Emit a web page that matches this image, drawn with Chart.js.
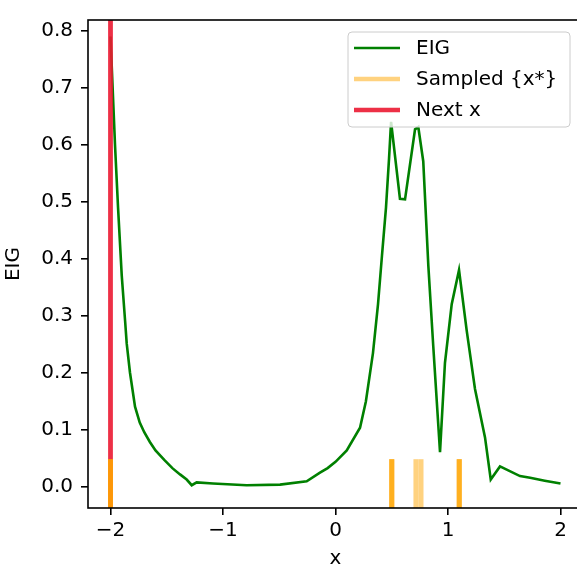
<!DOCTYPE html>
<html>
<head>
<meta charset="utf-8">
<script src="https://cdn.jsdelivr.net/npm/chart.js@4"></script>
<style>
  html, body { margin: 0; padding: 0; background: #fff; overflow: hidden; }
  canvas { display: block; }
</style>
</head>
<body>
<canvas id="eigChart" width="584" height="573"></canvas>
<script>
// --- data ---
const xValues = [-2.0, -1.96, -1.933, -1.9, -1.87, -1.856, -1.827, -1.782, -1.74, -1.7, -1.65, -1.6,
    -1.52, -1.45, -1.382, -1.323, -1.278, -1.234, -1.089, -0.79, -0.493, -0.256, -0.138, -0.07, 0.0,
    0.1, 0.218, 0.27, 0.333, 0.378, 0.413, 0.449, 0.476, 0.494, 0.573, 0.618, 0.707, 0.736, 0.78,
    0.825, 0.869, 0.929, 0.973, 1.033, 1.098, 1.166, 1.24, 1.329, 1.38, 1.462, 1.64, 1.73, 1.86, 2.0];
const eigValues = [0.79, 0.6, 0.49, 0.37, 0.29, 0.251, 0.2, 0.14, 0.112, 0.095, 0.078, 0.063,
    0.046, 0.032, 0.021, 0.012, 0.002, 0.007, 0.005, 0.002, 0.003, 0.009, 0.024, 0.032, 0.043,
    0.063, 0.103, 0.149, 0.234, 0.32, 0.405, 0.49, 0.576, 0.64, 0.505, 0.504, 0.627, 0.631, 0.571,
    0.388, 0.246, 0.06, 0.217, 0.32, 0.38, 0.274, 0.171, 0.086, 0.012, 0.035, 0.018, 0.015, 0.01, 0.005];
const sampledX = [-2, -2, -2, 0.5, 0.5, 0.5, 0.715, 0.76, 1.1, 1.1, 1.1];
const nextX = [-2];
const xTicks = [-2, -1, 0, 1, 2];
const yTicks = [0, 0.1, 0.2, 0.3, 0.4, 0.5, 0.6, 0.7, 0.8];
const legendLabels = ['EIG', 'Sampled {x*}', 'Next x'];

const X_MIN = -2.2, X_MAX = 2.2;
const Y_MIN = -0.038, Y_MAX = 0.819;
const RUG_FRACTION = 0.1; // sampled marks cover the lower 10% of the axes

const GREEN = '#008000';
const ORANGE = 'rgba(255, 165, 0, 0.5)';
const RED = 'rgba(235, 25, 50, 0.9)';
const FONT = "'DejaVu Sans', sans-serif";
const FONT_SIZE = 20;

const eigPoints = xValues.map((x, i) => ({ x, y: eigValues[i] }));
const rugTop = Y_MIN + RUG_FRACTION * (Y_MAX - Y_MIN);

// index 0 is drawn last (on top) in Chart.js
const datasets = [];
sampledX.forEach(s => {
    datasets.push({
        label: legendLabels[1],
        data: [{ x: s, y: Y_MIN }, { x: s, y: rugTop }],
        borderColor: ORANGE,
        borderWidth: 5,
        borderCapStyle: 'butt',
        pointRadius: 0
    });
});
nextX.forEach(n => {
    datasets.push({
        label: legendLabels[2],
        data: [{ x: n, y: Y_MIN }, { x: n, y: Y_MAX }],
        borderColor: RED,
        borderWidth: 4.8,
        borderCapStyle: 'butt',
        pointRadius: 0
    });
});
datasets.push({
    label: legendLabels[0],
    data: eigPoints,
    borderColor: GREEN,
    borderWidth: 2.6,
    pointRadius: 0,
    tension: 0
});

// frame around the plot area (matplotlib-like spines)
const framePlugin = {
    id: 'frame',
    afterDatasetsDraw(chart) {
        const { ctx, chartArea: a } = chart;
        ctx.save();
        ctx.strokeStyle = '#000';
        ctx.lineWidth = 1.6;
        ctx.strokeRect(a.left, a.top, a.right - a.left, a.bottom - a.top);
        ctx.restore();
    }
};

// legend box in the upper right corner
const legendPlugin = {
    id: 'boxLegend',
    afterDraw(chart) {
        const { ctx, chartArea: a } = chart;
        const colors = [GREEN, ORANGE, RED];
        const w = 222, h = 95;
        const x0 = a.right - 13 - w, y0 = a.top + 12;
        ctx.save();
        ctx.beginPath();
        ctx.roundRect(x0, y0, w, h, 4);
        ctx.fillStyle = 'rgba(255,255,255,0.8)';
        ctx.fill();
        ctx.strokeStyle = '#cccccc';
        ctx.lineWidth = 1;
        ctx.stroke();
        ctx.font = FONT_SIZE + 'px ' + FONT;
        ctx.textBaseline = 'middle';
        legendLabels.forEach((label, i) => {
            const y = y0 + 16 + i * 31;
            ctx.strokeStyle = colors[i];
            ctx.lineWidth = i === 0 ? 2.6 : 4.5;
            ctx.beginPath();
            ctx.moveTo(x0 + 6, y);
            ctx.lineTo(x0 + 52, y);
            ctx.stroke();
            ctx.fillStyle = '#000';
            ctx.fillText(label, x0 + 68, y + 1);
        });
        ctx.restore();
    }
};

const ctx = document.getElementById('eigChart').getContext('2d');
new Chart(ctx, {
    type: 'line',
    data: { datasets },
    options: {
        responsive: false,
        animation: false,
        layout: { padding: { top: 8, right: 1, left: 0, bottom: 0 } },
        plugins: {
            legend: { display: false },
            tooltip: { enabled: false }
        },
        scales: {
            x: {
                type: 'linear',
                min: X_MIN,
                max: X_MAX,
                afterBuildTicks: (scale) => { scale.ticks = xTicks.map(v => ({ value: v })); },
                afterFit: (scale) => { scale.height = 65; },
                ticks: {
                    color: '#000',
                    font: { family: FONT, size: FONT_SIZE },
                    padding: 4,
                    maxRotation: 0,
                    callback: (v) => String(v).replace('-', '\u2212')
                },
                grid: { drawOnChartArea: false, drawTicks: true, tickLength: 7, color: '#000', lineWidth: 1.6 },
                border: { display: false },
                title: { display: true, text: 'x', color: '#000', font: { family: FONT, size: FONT_SIZE }, padding: { top: 0, bottom: 2 } }
            },
            y: {
                min: Y_MIN,
                max: Y_MAX,
                afterBuildTicks: (scale) => { scale.ticks = yTicks.map(v => ({ value: v })); },
                afterFit: (scale) => { scale.width = 88; },
                ticks: {
                    color: '#000',
                    font: { family: FONT, size: FONT_SIZE },
                    padding: 8,
                    callback: (v) => v.toFixed(1)
                },
                grid: { drawOnChartArea: false, drawTicks: true, tickLength: 7, color: '#000', lineWidth: 1.6 },
                border: { display: false },
                title: { display: true, text: 'EIG', color: '#000', font: { family: FONT, size: FONT_SIZE }, padding: { top: 2, bottom: 4 } }
            }
        }
    },
    plugins: [framePlugin, legendPlugin]
});
</script>
</body>
</html>
